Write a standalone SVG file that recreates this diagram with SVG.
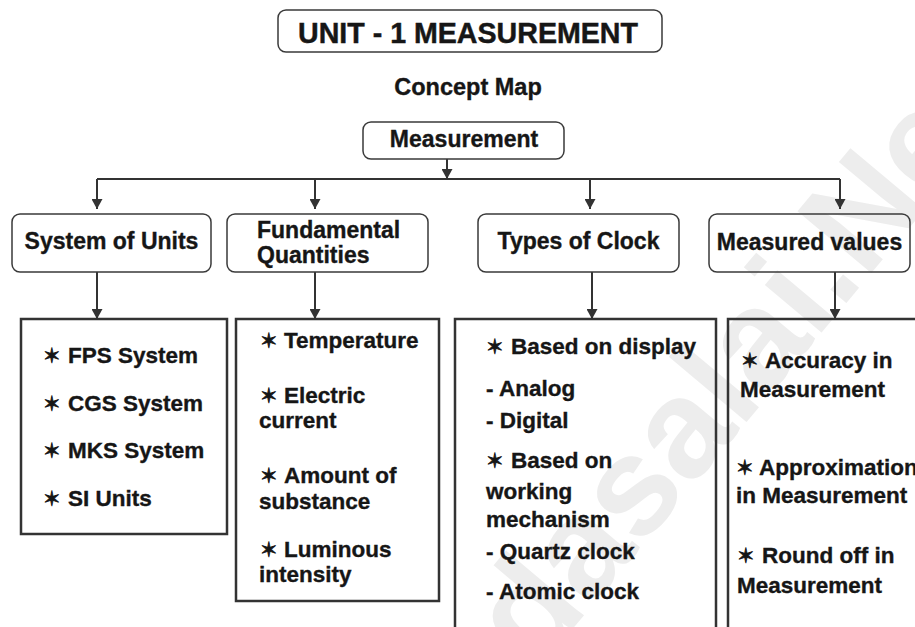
<svg xmlns="http://www.w3.org/2000/svg" width="915" height="627" viewBox="0 0 915 627">
  <defs>
    <style>
      .t { font-family: "Liberation Sans", Arial, sans-serif; font-weight: bold; font-size: 23px; fill: #161616; stroke: #161616; stroke-width: 0.35; }
      .s { font-family: "Liberation Sans", Arial, sans-serif; font-weight: bold; font-size: 22.5px; fill: #161616; stroke: #161616; stroke-width: 0.35; }
      .star { font-family: "DejaVu Sans", sans-serif; font-size: 21px; font-weight: bold; stroke-width: 0.8; }
      .rb { fill: none; stroke: #3a3a3a; stroke-width: 1.5; }
      .sq { fill: none; stroke: #333; stroke-width: 2.5; }
      .ln { fill: none; stroke: #333; stroke-width: 2; }
      .wm { font-family: "Liberation Sans", Arial, sans-serif; font-weight: bold; font-size: 140px; fill: #ededed; }
    </style>
    <marker id="arrow" markerUnits="userSpaceOnUse" markerWidth="11" markerHeight="11" refX="10" refY="5.5" orient="auto">
      <path d="M0,0 L10,5.5 L0,11 z" fill="#333"/>
    </marker>
  </defs>

  <rect width="915" height="627" fill="#ffffff"/>

  <!-- faint diagonal watermark -->
  <text class="wm" x="425" y="805" transform="rotate(-50 425 805)">Padasalai.Net</text>

  <!-- heading -->
  <g id="title">
    <rect class="rb" x="278" y="10" width="384" height="42" rx="8"/>
    <text x="468" y="43" text-anchor="middle" style="font-family:'Liberation Sans',Arial,sans-serif;font-weight:bold;font-size:28.6px;fill:#161616;stroke:#161616;stroke-width:0.45">UNIT - 1 MEASUREMENT</text>
  </g>
  <g id="subtitle">
    <text class="t" x="468" y="95" text-anchor="middle" style="font-size:23.5px">Concept Map</text>
  </g>

  <!-- connectors -->
  <g id="connectors">
    <path class="ln" d="M447,159 V179" marker-end="url(#arrow)"/>
    <path class="ln" d="M97,179 H840"/>
    <path class="ln" d="M97,179 V209" marker-end="url(#arrow)"/>
    <path class="ln" d="M315,179 V209" marker-end="url(#arrow)"/>
    <path class="ln" d="M590,179 V209" marker-end="url(#arrow)"/>
    <path class="ln" d="M840,179 V209" marker-end="url(#arrow)"/>
    <path class="ln" d="M97,272 V319" marker-end="url(#arrow)"/>
    <path class="ln" d="M315,272 V319" marker-end="url(#arrow)"/>
    <path class="ln" d="M592,272 V319" marker-end="url(#arrow)"/>
    <path class="ln" d="M835,272 V319" marker-end="url(#arrow)"/>
  </g>

  <!-- root -->
  <g id="measurement">
    <rect class="rb" x="363" y="122" width="201" height="37" rx="8"/>
    <text class="t" x="464" y="147" text-anchor="middle">Measurement</text>
  </g>

  <!-- second level -->
  <g id="system-of-units">
    <rect class="rb" x="12" y="214" width="199" height="58" rx="8"/>
    <text class="t" x="111.5" y="249" text-anchor="middle">System of Units</text>
  </g>
  <g id="fundamental-quantities">
    <rect class="rb" x="227" y="214" width="201" height="58" rx="8"/>
    <text class="t" x="257" y="238">Fundamental</text>
    <text class="t" x="257" y="263">Quantities</text>
  </g>
  <g id="types-of-clock">
    <rect class="rb" x="478" y="214" width="201" height="58" rx="8"/>
    <text class="t" x="578.5" y="249" text-anchor="middle">Types of Clock</text>
  </g>
  <g id="measured-values">
    <rect class="rb" x="709" y="214" width="201" height="58" rx="8"/>
    <text class="t" x="809.5" y="250" text-anchor="middle">Measured values</text>
  </g>

  <!-- third level -->
  <g id="unit-systems">
    <rect class="sq" x="21" y="319" width="206" height="215"/>
    <text class="s" y="363"><tspan class="star" x="43">✶</tspan><tspan x="68">FPS System</tspan></text>
    <text class="s" y="411"><tspan class="star" x="43">✶</tspan><tspan x="68">CGS System</tspan></text>
    <text class="s" y="458"><tspan class="star" x="43">✶</tspan><tspan x="68">MKS System</tspan></text>
    <text class="s" y="506"><tspan class="star" x="43">✶</tspan><tspan x="68">SI Units</tspan></text>
  </g>
  <g id="quantities-list">
    <rect class="sq" x="236" y="319" width="203" height="282"/>
    <text class="s" y="348"><tspan class="star" x="260">✶</tspan><tspan x="284">Temperature</tspan></text>
    <text class="s" y="403"><tspan class="star" x="260">✶</tspan><tspan x="284">Electric</tspan></text>
    <text class="s" x="259" y="428">current</text>
    <text class="s" y="483"><tspan class="star" x="260">✶</tspan><tspan x="284">Amount of</tspan></text>
    <text class="s" x="259" y="509">substance</text>
    <text class="s" y="557"><tspan class="star" x="260">✶</tspan><tspan x="284">Luminous</tspan></text>
    <text class="s" x="259" y="582">intensity</text>
  </g>
  <g id="clock-list">
    <rect class="sq" x="455" y="319" width="261" height="330"/>
    <text class="s" y="354"><tspan class="star" x="486">✶</tspan><tspan x="511">Based on display</tspan></text>
    <text class="s" x="486" y="396">- Analog</text>
    <text class="s" x="486" y="428">- Digital</text>
    <text class="s" y="468"><tspan class="star" x="486">✶</tspan><tspan x="511">Based on</tspan></text>
    <text class="s" x="486" y="499">working</text>
    <text class="s" x="486" y="527">mechanism</text>
    <text class="s" x="486" y="559">- Quartz clock</text>
    <text class="s" x="486" y="599">- Atomic clock</text>
  </g>
  <g id="values-list">
    <rect class="sq" x="728" y="319" width="220" height="330"/>
    <text class="s" y="368"><tspan class="star" x="741">✶</tspan><tspan x="765">Accuracy in</tspan></text>
    <text class="s" x="740" y="397">Measurement</text>
    <text class="s" y="475"><tspan class="star" x="736">✶</tspan><tspan x="759">Approximation</tspan></text>
    <text class="s" x="736" y="503">in Measurement</text>
    <text class="s" y="563"><tspan class="star" x="737">✶</tspan><tspan x="762">Round off in</tspan></text>
    <text class="s" x="737" y="593">Measurement</text>
  </g>
</svg>
